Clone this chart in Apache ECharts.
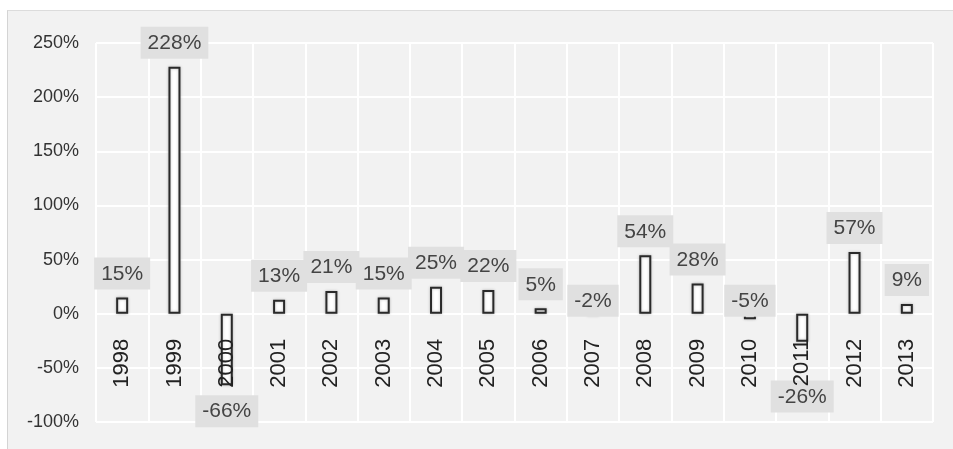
<!DOCTYPE html>
<html>
<head>
<meta charset="utf-8">
<script src="https://cdn.jsdelivr.net/npm/echarts@6/dist/echarts.min.js"></script>
<style>
  html, body { margin: 0; padding: 0; background: #fff; }
  .panel {
    position: absolute; left: 7px; top: 10px; right: 0; bottom: 0;
    background: #f2f2f2;
    border-left: 1px solid #d4d4d4;
    border-top: 1px solid #dcdcdc;
  }
  #chart { position: absolute; left: 0; top: 0; width: 953px; height: 449px; }
</style>
</head>
<body>
<div class="panel"></div>
<div id="chart"></div>
<script>
  // 年度增长率
  var years = ['1998', '1999', '2000', '2001', '2002', '2003', '2004', '2005',
               '2006', '2007', '2008', '2009', '2010', '2011', '2012', '2013'];
  var growth = [15, 228, -66, 13, 21, 15, 25, 22, 5, -2, 54, 28, -5, -26, 57, 9];
  var yTicks = { min: -100, max: 250, step: 50 };

  var font = 'Liberation Sans, Arial, sans-serif';
  var myChart = echarts.init(document.getElementById('chart'), null, { renderer: 'canvas' });

  function buildData(extra) {
    return growth.map(function (v, i) {
      var bigNeg = v < -10;
      return {
        value: v,
        label: {
          position: bigNeg ? 'bottom' : 'top',
          distance: extra && extra[i] != null ? extra[i] : (v < 0 && !bigNeg ? -3 : 8)
        }
      };
    });
  }

  var option = {
    backgroundColor: 'transparent',
    animation: false,
    grid: { left: 96, right: 20, top: 43, bottom: 27 },
    xAxis: [
      {
        // 网格竖线
        type: 'category',
        data: years,
        axisLine: { show: false, onZero: false },
        axisTick: { show: false },
        axisLabel: { show: false },
        splitLine: { show: true, lineStyle: { color: '#fff', width: 2 } }
      },
      {
        // 年份标签，画在柱子上面
        type: 'category',
        data: years,
        position: 'bottom',
        offset: 0,
        z: 5,
        axisLine: { show: false, onZero: false },
        axisTick: { show: false },
        axisLabel: {
          rotate: 90,
          margin: 14,
          fontSize: 22,
          color: '#222',
          fontFamily: font
        },
        splitLine: { show: false }
      }
    ],
    yAxis: {
      type: 'value',
      min: yTicks.min,
      max: yTicks.max,
      interval: yTicks.step,
      axisLine: { show: false },
      axisTick: { show: false },
      axisLabel: {
        formatter: '{value}%',
        margin: 17,
        fontSize: 18,
        color: '#333',
        fontFamily: font
      },
      splitLine: { show: true, lineStyle: { color: '#fff', width: 2 } }
    },
    series: [{
      type: 'bar',
      xAxisIndex: 0,
      barWidth: 12,
      data: buildData(),
      itemStyle: {
        color: '#fff',
        borderColor: '#2a2a2a',
        borderWidth: 2,
        shadowBlur: 3,
        shadowColor: 'rgba(0,0,0,0.25)'
      },
      label: {
        show: true,
        formatter: '{c}%',
        fontSize: 21,
        color: '#444',
        fontFamily: font,
        backgroundColor: '#e0e0e0',
        padding: [6, 7, 5, 7]
      }
    }]
  };
  myChart.setOption(option);

  // 年份标签放在 0% 线下方；负值标签放到年份文字下方，避免重叠
  var zeroY = myChart.convertToPixel({ yAxisIndex: 0 }, 0);
  var bottomY = myChart.convertToPixel({ yAxisIndex: 0 }, yTicks.min);
  var labelZone = 14 + 50;
  var extra = growth.map(function (v) {
    if (v >= -10) return null;
    var barBottom = myChart.convertToPixel({ yAxisIndex: 0 }, v);
    return Math.max(10, zeroY + labelZone - barBottom);
  });
  myChart.setOption({
    xAxis: [{}, { offset: -(bottomY - zeroY) }],
    series: [{ data: buildData(extra) }]
  });
</script>
</body>
</html>
